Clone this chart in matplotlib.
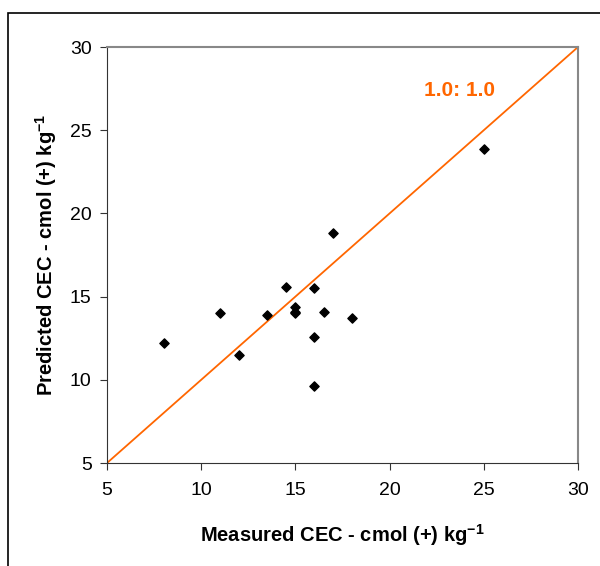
import matplotlib.pyplot as plt
from matplotlib.patches import Rectangle

plt.rcParams['font.family'] = ['Liberation Sans', 'DejaVu Sans']
plt.rcParams['mathtext.fontset'] = 'custom'
plt.rcParams['mathtext.rm'] = 'Liberation Sans'
plt.rcParams['mathtext.bf'] = 'Liberation Sans:bold'

# Measured vs predicted CEC, cmol(+)/kg
measured = [8, 11, 12, 13.5, 14.5, 15, 15, 15, 16, 16, 16, 16.5, 17, 18, 25]
predicted = [12.2, 14.0, 11.5, 13.9, 15.6, 14.4, 14.1, 14.0, 15.5, 12.6, 9.6, 14.1, 18.8, 13.7, 23.9]

ticks = [5, 10, 15, 20, 25, 30]
one_to_one = [5, 30]
ORANGE = '#FF6600'


def main():
    fig = plt.figure(figsize=(6, 5.66), dpi=100)
    # outer border of the original chart area
    fig.patches.append(Rectangle((8 / 600, -0.1), 1.2, 1 - 13 / 566 + 0.1,
                                 transform=fig.transFigure, fill=False,
                                 edgecolor='black', linewidth=1.2))

    ax = fig.add_axes([107 / 600, 1 - 463 / 566, 471 / 600, 416 / 566])
    ax.plot(one_to_one, one_to_one, color=ORANGE, linewidth=1.3, zorder=2)
    ax.scatter(measured, predicted, marker='D', s=22, color='black', zorder=3)

    ax.text(21.85, 27.4, '1.0: 1.0', color=ORANGE, fontsize=15,
            fontweight='bold', va='center')

    ax.set_xlim(5, 30)
    ax.set_ylim(5, 30)
    ax.set_xticks(ticks)
    ax.set_yticks(ticks)
    ax.tick_params(labelsize=14, direction='out', length=5, color='#333333')
    ax.tick_params(axis='x', pad=9)
    ax.tick_params(axis='y', pad=6)

    for side in ['left', 'bottom']:
        ax.spines[side].set_color('#333333')
    for side in ['top', 'right']:
        ax.spines[side].set_color('#888888')
        ax.spines[side].set_linewidth(1.5)

    ax.set_xlabel('Measured CEC - cmol (+) kg$^{\\mathbf{-1}}$', fontsize=14.5,
                  fontweight='bold', labelpad=16)
    ax.set_ylabel('Predicted CEC - cmol (+) kg$^{\\mathbf{-1}}$', fontsize=14.5,
                  fontweight='bold', labelpad=8)

    fig.savefig('out.png', dpi=100)


if __name__ == "__main__":
    main()
